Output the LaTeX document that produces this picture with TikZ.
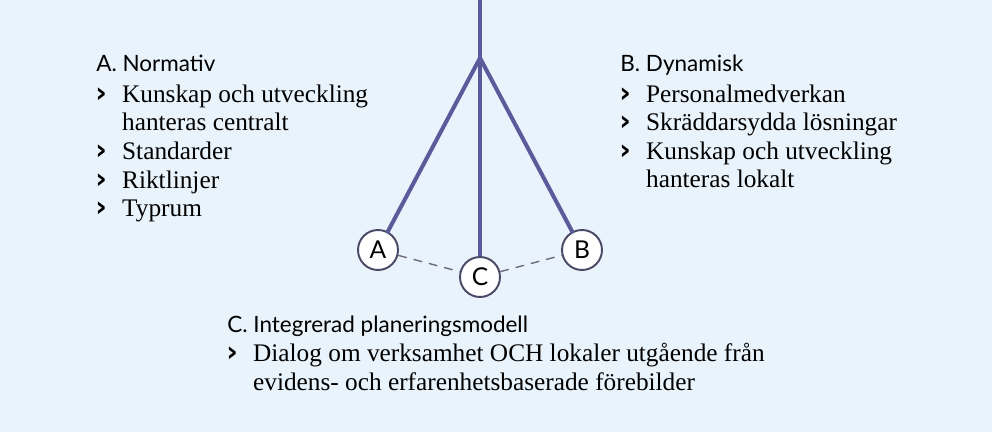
\documentclass[tikz,border=0pt]{standalone}
\usepackage{fontspec}
\setmainfont{Liberation Serif}
\setsansfont{Lato}
\newfontfamily\chevfont{DejaVu Sans}
\definecolor{bgblue}{HTML}{E9F3FB}
\definecolor{pendulum}{HTML}{5D5A9B}
\definecolor{ringgray}{HTML}{4B4A66}
\definecolor{dashgray}{HTML}{6C6C7E}
\newcommand{\chev}{\makebox[14.7pt][l]{\hspace{-0.6pt}{\chevfont\bfseries\fontsize{16}{16}\selectfont ›}}}
\newcommand{\contd}{\hspace*{14.7pt}}
\tikzset{
	heading/.style={anchor=base west, inner sep=0pt, font=\sffamily\fontsize{12.8}{15}\selectfont},
	items/.style={anchor=base west, inner sep=0pt, align=left, font=\fontsize{14.4}{16.3}\selectfont},
	weight/.style={draw=ringgray, line width=1.1pt, fill=white, circle, minimum size=0.8cm, inner sep=0pt, font=\sffamily\fontsize{14}{14}\selectfont}
}

\begin{document}
\begin{tikzpicture}[x=0.02cm, y=-0.02cm]
	\useasboundingbox[fill=bgblue] (0,0) rectangle (992,432);

	\coordinate (top) at (480,0);
	\coordinate (pivot) at (480,58);
	\node[weight] at (378,250) (circle-a) {A};
	\node[weight] at (582,250) (circle-b) {B};
	\node[weight] at (480,277) (circle-c) {C};

	\draw[pendulum, line width=2.3pt] (top) -- (pivot);
	\draw[pendulum, line width=2.3pt, line cap=round] (pivot) -- (circle-a);
	\draw[pendulum, line width=2.3pt, line cap=round] (pivot) -- (circle-b);
	\draw[pendulum, line width=2.3pt] (pivot) -- (circle-c);
	\draw[dashgray, line width=0.8pt, dash pattern=on 5pt off 4pt] (circle-a) -- (circle-c);
	\draw[dashgray, line width=0.8pt, dash pattern=on 5pt off 4pt] (circle-c) -- (circle-b);

	% base anchor of a multi-line node sits on its last line
	\node[heading] at (96,72) (head-a) {A. Normativ};
	\node[items] at (96,216.7) (items-a) {\chev Kunskap och utveckling\\ \contd hanteras centralt\\ \chev Standarder\\ \chev Riktlinjer\\ \chev Typrum};

	\node[heading] at (620,72) (head-b) {B. Dynamisk};
	\node[items] at (620,188) (items-b) {\chev Personalmedverkan\\ \chev Skräddarsydda lösningar\\ \chev Kunskap och utveckling\\ \contd hanteras lokalt};

	\node[heading] at (227,333) (head-c) {C. Integrerad planeringsmodell};
	\node[items] at (227,390.4) (items-c) {\chev Dialog om verksamhet OCH lokaler utgående från\\ \contd evidens- och erfarenhetsbaserade förebilder};
\end{tikzpicture}
\end{document}
